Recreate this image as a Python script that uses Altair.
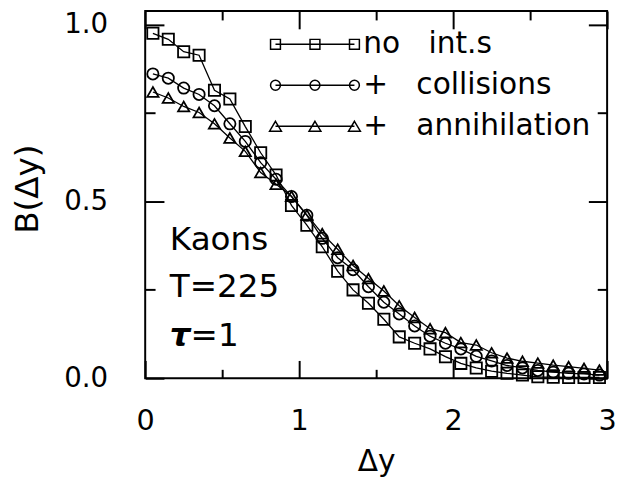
import altair as alt
import pandas as pd

FONT = "DejaVu Sans"

# ---- data ----
dy = [0.05, 0.15, 0.25, 0.35, 0.45, 0.55, 0.65, 0.75, 0.85, 0.95,
      1.05, 1.15, 1.25, 1.35, 1.45, 1.55, 1.65, 1.75, 1.85, 1.95,
      2.05, 2.15, 2.25, 2.35, 2.45, 2.55, 2.65, 2.75, 2.85, 2.95]
no_int = [0.976, 0.959, 0.924, 0.914, 0.815, 0.790, 0.712, 0.638, 0.575, 0.489,
          0.433, 0.372, 0.303, 0.250, 0.212, 0.167, 0.117, 0.099, 0.083, 0.061,
          0.042, 0.029, 0.020, 0.014, 0.009, 0.004, 0.003, 0.002, 0.002, 0.002]
collisions = [0.861, 0.849, 0.821, 0.803, 0.771, 0.720, 0.670, 0.610, 0.563, 0.514,
              0.461, 0.396, 0.341, 0.307, 0.259, 0.215, 0.182, 0.148, 0.119, 0.099,
              0.083, 0.062, 0.049, 0.036, 0.029, 0.022, 0.017, 0.014, 0.012, 0.009]
annihilation = [0.810, 0.793, 0.769, 0.752, 0.720, 0.680, 0.642, 0.582, 0.549, 0.515,
                0.462, 0.409, 0.365, 0.319, 0.282, 0.247, 0.205, 0.172, 0.140, 0.129,
                0.101, 0.094, 0.072, 0.057, 0.048, 0.043, 0.037, 0.033, 0.028, 0.023]
series_names = ["no\u00a0\u00a0\u00a0int.s", "+\u00a0\u00a0\u00a0collisions", "+\u00a0\u00a0\u00a0annihilation"]

x_label_values = [0, 1, 2, 3]
x_tick_values = [0, 0.5, 1, 1.5, 2, 2.5, 3]
y_label_values = [0.0, 0.5, 1.0]
y_tick_values = [0.0, 0.25, 0.5, 0.75, 1.0]

rows = []
for name, vals in zip(series_names, [no_int, collisions, annihilation]):
    for xv, yv in zip(dy, vals):
        rows.append({"dy": xv, "B": yv, "series": name})
df = pd.DataFrame(rows)

W, H = 468, 372
x_scale = alt.Scale(domain=[0, 3], nice=False, zero=False)
y_scale = alt.Scale(domain=[0, 1.039], nice=False, zero=False)

x_tick_size = {"condition": {"test": "datum.value % 1 === 0", "value": 18}, "value": 9}
y_tick_size = {"condition": {"test": "datum.value % 0.5 === 0", "value": 19}, "value": 10}


def tick_axis(orient, offset, values, size):
    return alt.Axis(orient=orient, offset=offset, values=values, labels=False,
                    domain=False, grid=False, tickSize=size, tickWidth=2,
                    tickColor="black", title=None)


# legend glyph: three markers joined by a line (unit = 5 px for symbolSize 100)
L = 8.0
def sq(cx, s=1.0):
    return f"M{cx - s},{-s}h{2 * s}v{2 * s}h{-2 * s}Z"
def ci(cx, r=1.0):
    return f"M{cx - r},0a{r},{r} 0 1,0 {2 * r},0a{r},{r} 0 1,0 {-2 * r},0Z"
def tr(cx, w=1.2, h=1.0):
    return f"M{cx},{-h}L{cx + w},{h}L{cx - w},{h}Z"
line_path = f"M{-L},0L{L},0"
legend_paths = [
    line_path + "".join(sq(c) for c in (-L, 0, L)),
    line_path + "".join(ci(c) for c in (-L, 0, L)),
    line_path + "".join(tr(c) for c in (-L, 0, L)),
]

base = alt.Chart(df)

lines = base.mark_line(color="black", strokeWidth=1.3).encode(
    x=alt.X("dy:Q", scale=x_scale,
            axis=alt.Axis(orient="bottom", values=x_label_values, format="d",
                          ticks=False, tickSize=0, domain=False, grid=False,
                          labelFlush=False, labelPadding=29, labelFontSize=29,
                          title="Δy", titleFontSize=30, titlePadding=12,
                          titleFontWeight="normal")),
    y=alt.Y("B:Q", scale=y_scale,
            axis=alt.Axis(orient="left", values=y_label_values, format=".1f",
                          ticks=False, tickSize=0, domain=False, grid=False,
                          labelFlush=False, labelPadding=38, labelFontSize=28,
                          title="B(Δy)", titleFontSize=33, titlePadding=20,
                          titleFontWeight="normal", titleY=180)),
    detail="series:N",
    order="dy:Q",
)

points = base.mark_point(filled=False, color="black", size=130, strokeWidth=1.8,
                         opacity=1).encode(
    x=alt.X("dy:Q", scale=x_scale, axis=tick_axis("top", -H, x_tick_values, x_tick_size)),
    y=alt.Y("B:Q", scale=y_scale, axis=tick_axis("right", -W, y_tick_values, y_tick_size)),
    shape=alt.Shape("series:N",
                    scale=alt.Scale(domain=series_names, range=["square", "circle", "triangle-up"]),
                    legend=None),
)

legend_layer = base.mark_point(filled=False, color="black", opacity=0).encode(
    x=alt.X("dy:Q", scale=x_scale, axis=tick_axis("bottom", -H, x_tick_values, x_tick_size)),
    y=alt.Y("B:Q", scale=y_scale, axis=tick_axis("left", -W, y_tick_values, y_tick_size)),
    shape=alt.Shape("series:N",
                    scale=alt.Scale(domain=series_names, range=legend_paths),
                    legend=alt.Legend(orient="none", legendX=157, legendY=18.7,
                                      title=None, padding=0, symbolSize=100,
                                      symbolOpacity=1, symbolStrokeColor="black",
                                      symbolFillColor="transparent",
                                      symbolStrokeWidth=1.5,
                                      labelFont=FONT, labelFontSize=30,
                                      labelColor="black", labelOffset=34,
                                      labelLimit=0, rowPadding=11.5)),
)

ann_df = pd.DataFrame({"t": ["Kaons", "T=225", "=1"]})
kaons = alt.Chart(ann_df[ann_df.t == "Kaons"]).mark_text(
    align="left", baseline="alphabetic", font=FONT, fontSize=33, color="black",
    x=25, y=242).encode(text="t:N")
temp = alt.Chart(ann_df[ann_df.t == "T=225"]).mark_text(
    align="left", baseline="alphabetic", font=FONT, fontSize=33, color="black",
    x=25, y=290).encode(text="t:N")
eq1 = alt.Chart(ann_df[ann_df.t == "=1"]).mark_text(
    align="left", baseline="alphabetic", font=FONT, fontSize=33, color="black",
    x=46, y=339).encode(text="t:N")
tau = alt.Chart(pd.DataFrame({"t": ["τ"]})).mark_text(
    align="left", baseline="alphabetic", font=FONT, fontSize=33, color="black",
    fontStyle="italic", fontWeight="bold", x=25, y=339).encode(text="t:N")

chart = alt.layer(lines, points, legend_layer, kaons, temp, tau, eq1).resolve_scale(
    shape="independent"
).resolve_axis(
    x="independent", y="independent"
).properties(
    width=W, height=H,
    autosize=alt.AutoSizeParams(type="none"),
    padding={"left": 139, "top": 0, "right": 9, "bottom": 98},
).configure_axis(
    labelFont=FONT, titleFont=FONT, labelColor="black", titleColor="black"
).configure_view(
    stroke="black", strokeWidth=2
)

chart.save("out.html", embed_options={"renderer": "svg", "actions": False})
